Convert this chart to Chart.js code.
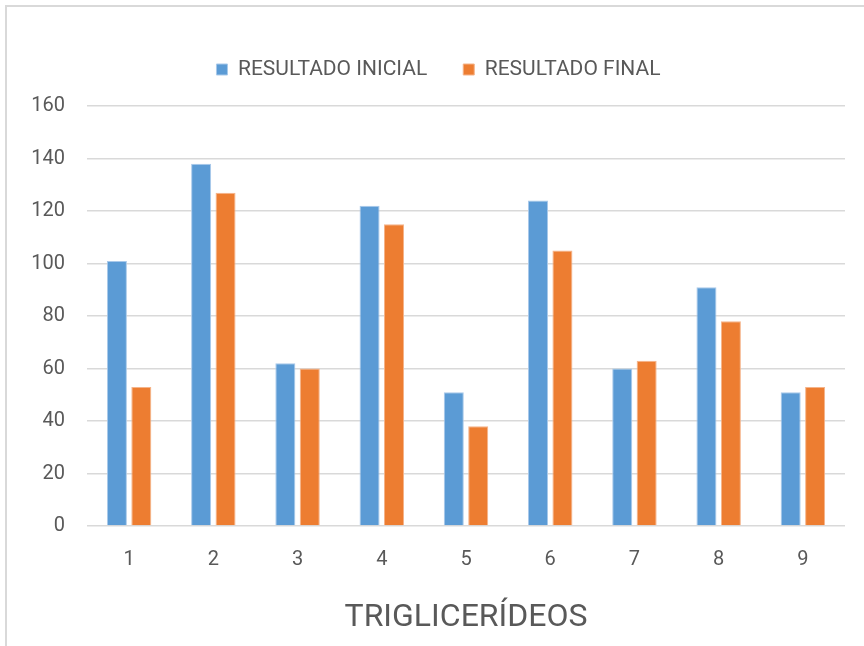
<!DOCTYPE html>
<html>
<head>
<meta charset="utf-8">
<script src="https://cdn.jsdelivr.net/npm/chart.js@4.4.1/dist/chart.umd.min.js"></script>
<style>
  html, body { margin: 0; padding: 0; background: #ffffff; overflow: hidden; }
  .frame {
    position: absolute; left: 5px; top: 5px;
    width: 900px; height: 700px;
    border: 2px solid #d9d9d9;
  }
  #chart { position: absolute; left: 0; top: 0; }
</style>
</head>
<body>
<div class="frame"></div>
<canvas id="chart" width="864" height="646"></canvas>
<script>
const categories = ['1', '2', '3', '4', '5', '6', '7', '8', '9'];
const seriesNames = ['RESULTADO INICIAL', 'RESULTADO FINAL'];
const initialValues = [101, 138, 62, 122, 51, 124, 60, 91, 51];
const finalValues = [53, 127, 60, 115, 38, 105, 63, 78, 53];
const yTicks = [0, 20, 40, 60, 80, 100, 120, 140, 160];
const axisTitle = 'TRIGLICERÍDEOS';

const FONT = "Roboto, sans-serif";
const TEXT_COLOR = '#595959';

// push the legend down and a bit right so it sits where the reference has it
const legendSpacing = {
  id: 'legendSpacing',
  beforeInit(chart) {
    const fit = chart.legend.fit;
    chart.legend.fit = function() {
      fit.bind(chart.legend)();
      this.height += 16;
    };
  },
  afterLayout(chart) {
    chart.legend.left += 16;
    chart.legend.right += 16;
  }
};

new Chart(document.getElementById('chart'), {
  type: 'bar',
  data: {
    labels: categories,
    datasets: [{
      label: seriesNames[0],
      data: initialValues,
      backgroundColor: '#5b9bd5',
      borderColor: '#a9c9ea',
      borderWidth: 1
    }, {
      label: seriesNames[1],
      data: finalValues,
      backgroundColor: '#ed7d31',
      borderColor: '#f5b48a',
      borderWidth: 1
    }]
  },
  options: {
    responsive: false,
    animation: false,
    categoryPercentage: 0.58,
    barPercentage: 0.82,
    layout: {
      padding: { top: 23, right: 19, left: 0, bottom: 0 }
    },
    plugins: {
      legend: {
        position: 'top',
        labels: {
          font: { family: FONT, size: 21 },
          color: TEXT_COLOR,
          boxWidth: 11,
          boxHeight: 11,
          padding: 36
        }
      },
      tooltip: { enabled: false }
    },
    scales: {
      y: {
        min: 0,
        max: 160,
        afterBuildTicks(scale) {
          scale.ticks = yTicks.map(v => ({ value: v }));
        },
        afterFit(scale) {
          scale.width = 87;
        },
        border: { display: false },
        grid: {
          color: '#d9d9d9',
          lineWidth: 1.5,
          drawTicks: false
        },
        ticks: {
          font: { family: FONT, size: 20 },
          color: TEXT_COLOR,
          padding: 22
        }
      },
      x: {
        afterFit(scale) {
          scale.height = 120;
        },
        border: { display: false },
        grid: { display: false, drawTicks: false },
        ticks: {
          font: { family: FONT, size: 20 },
          color: TEXT_COLOR,
          padding: 22
        },
        title: {
          display: true,
          text: axisTitle,
          font: { family: FONT, size: 32 },
          color: TEXT_COLOR,
          padding: { top: 0, bottom: 9 }
        }
      }
    }
  },
  plugins: [legendSpacing]
});
</script>
</body>
</html>
